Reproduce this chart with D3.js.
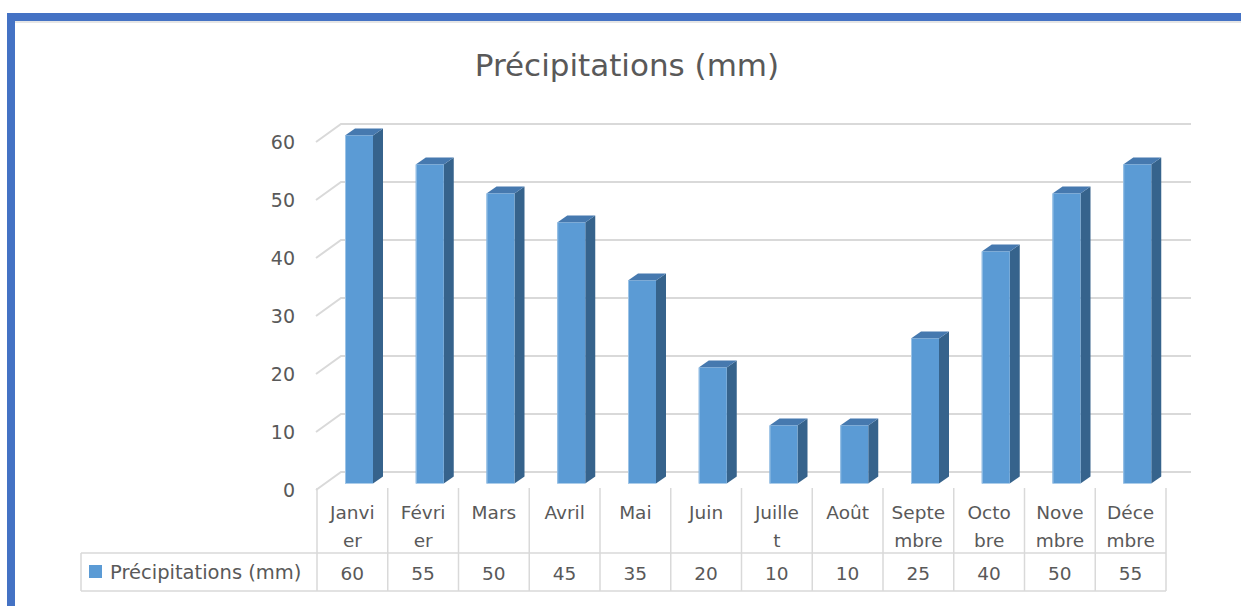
<!DOCTYPE html>
<html><head><meta charset="utf-8">
<script src="https://cdn.jsdelivr.net/npm/d3@7"></script>
<style>
html,body{margin:0;padding:0;background:#fff;}
svg{display:block;}
text{font-family:"DejaVu Sans","Noto Sans",sans-serif;fill:#595959;}
</style></head><body>
<svg id="c" width="1241" height="606"></svg>
<script>
const months = ["Janvier","Février","Mars","Avril","Mai","Juin","Juillet","Août","Septembre","Octobre","Novembre","Décembre"];
const monthLines = [["Janvi","er"],["Févri","er"],["Mars"],["Avril"],["Mai"],["Juin"],["Juille","t"],["Août"],["Septe","mbre"],["Octo","bre"],["Nove","mbre"],["Déce","mbre"]];
const values = [60,55,50,45,35,20,10,10,25,40,50,55];
const yTicks = [0,10,20,30,40,50,60];
const seriesName = "Précipitations (mm)";
const title = "Précipitations (mm)";

const svg = d3.select("#c");
// frame border
svg.append("rect").attr("x",0).attr("y",0).attr("width",1241).attr("height",606).attr("fill","#fff");
svg.append("rect").attr("x",14).attr("y",21).attr("width",1227).attr("height",2).attr("fill","#e6e6e6");
svg.append("rect").attr("x",7).attr("y",13).attr("width",1234).attr("height",8).attr("fill","#4472C4");
svg.append("rect").attr("x",7).attr("y",13).attr("width",8).attr("height",593).attr("fill","#4472C4");

svg.append("text").attr("x",627).attr("y",65).attr("text-anchor","middle").attr("dominant-baseline","central")
  .style("font-size","31px").text(title);

const x = d3.scaleBand().domain(months).range([317,1166]).paddingInner(0).paddingOuter(0);
const y = d3.scaleLinear().domain([0,60]).range([472,124]);
const DX = 25, DY = 18; // depth of floor/back wall

// gridlines (back wall + left wall diagonal)
const grid = svg.append("g").attr("stroke","#d9d9d9").attr("stroke-width",2).attr("fill","none");
yTicks.forEach(t=>{
  grid.append("path").attr("d",`M${316},${y(t)+DY} L${316+DX},${y(t)} L1191,${y(t)}`);
});
// tick labels
svg.append("g").selectAll("text").data(yTicks).join("text")
  .attr("x",295).attr("y",d=>y(d)+DY).attr("text-anchor","end").attr("dominant-baseline","central")
  .style("font-size","19px").text(d=>d);

// bars
const BO = 11.5, bw = 28, off = 28, sdx = 10, sdy = 7;
const bars = svg.append("g");
values.forEach((v,i)=>{
  const x0 = x(months[i]) + off;
  const yt = y(v) + BO, yb = y(0) + BO;
  bars.append("path").attr("fill","#36638c")
    .attr("d",`M${x0+bw},${yt} L${x0+bw+sdx},${yt-sdy} L${x0+bw+sdx},${yb-sdy} L${x0+bw},${yb} Z`);
  bars.append("path").attr("fill","#4679af")
    .attr("d",`M${x0},${yt} L${x0+sdx},${yt-sdy} L${x0+bw+sdx},${yt-sdy} L${x0+bw},${yt} Z`);
  bars.append("rect").attr("x",x0).attr("y",yt).attr("width",bw).attr("height",yb-yt).attr("fill","#5B9BD5");
  bars.append("line").attr("x1",x0+0.5).attr("x2",x0+0.5).attr("y1",yt).attr("y2",yb).attr("stroke","#9cc3e6").attr("stroke-width",1);
});

// data table
const tb = svg.append("g").attr("stroke","#d9d9d9").attr("stroke-width",1.5);
months.forEach((m,i)=>{
  tb.append("line").attr("x1",x(m)).attr("x2",x(m)).attr("y1",488).attr("y2",591);
});
tb.append("line").attr("x1",1166).attr("x2",1166).attr("y1",488).attr("y2",591);
tb.append("line").attr("x1",81).attr("x2",81).attr("y1",553).attr("y2",591);
tb.append("line").attr("x1",81).attr("x2",1166).attr("y1",553).attr("y2",553);
tb.append("line").attr("x1",81).attr("x2",1166).attr("y1",591).attr("y2",591);

const hdr = svg.append("g");
months.forEach((m,i)=>{
  const cx = x(m) + x.bandwidth()/2;
  monthLines[i].forEach((ln,j)=>{
    hdr.append("text").attr("x",cx).attr("y",512+28*j).attr("text-anchor","middle").attr("dominant-baseline","central")
      .style("font-size","18.5px").text(ln);
  });
  hdr.append("text").attr("x",cx).attr("y",573).attr("text-anchor","middle").attr("dominant-baseline","central")
    .style("font-size","18.5px").text(values[i]);
});
svg.append("rect").attr("x",89).attr("y",565).attr("width",13).attr("height",13).attr("fill","#5B9BD5");
svg.append("text").attr("x",110).attr("y",572).attr("dominant-baseline","central").style("font-size","19.5px").text(seriesName);
</script></body></html>
